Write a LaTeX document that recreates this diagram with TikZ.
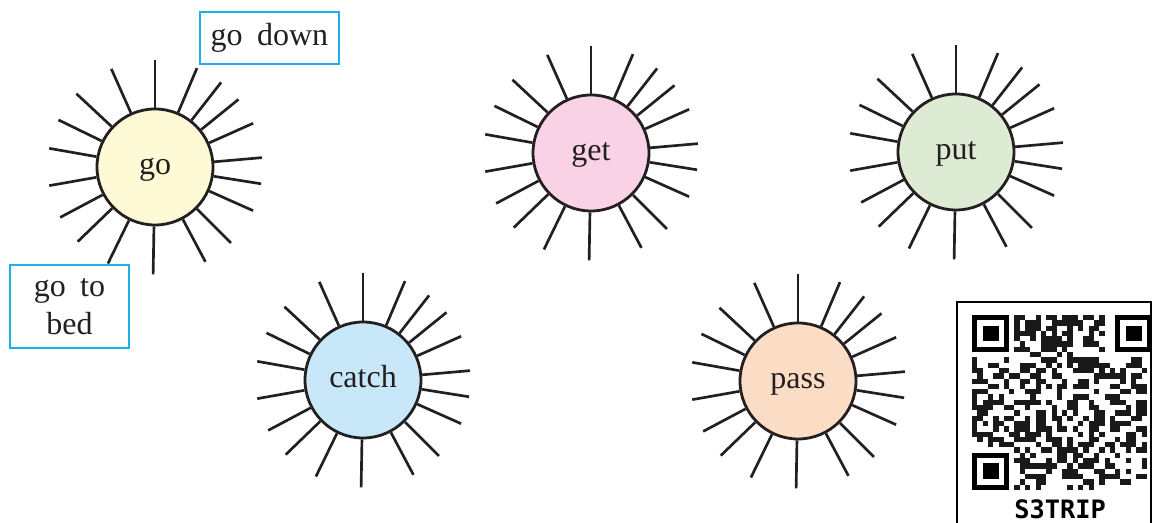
\documentclass[tikz,border=0pt]{standalone}
\usepackage{fontspec}
\setmainfont{Liberation Serif}
\newfontfamily\qrfont{DejaVu Sans Mono}
\definecolor{ink}{HTML}{231F20}
\definecolor{goY}{HTML}{FEFAD6}
\definecolor{getP}{HTML}{F9D3E5}
\definecolor{putG}{HTML}{DDEBD5}
\definecolor{catchB}{HTML}{C8E8F9}
\definecolor{passO}{HTML}{FBDCC5}
\definecolor{boxblue}{HTML}{1EAEE9}
\begin{document}
\begin{tikzpicture}[x=0.75pt,y=0.75pt,
  sun/.style={circle,draw=ink,line width=2.1pt,minimum size=87pt,inner sep=0pt,
    font=\fontsize{24}{28}\selectfont,text=ink,text height=12pt,text depth=0pt},
  ray/.style={draw=ink,line width=2pt},
  wbox/.style={draw=boxblue,line width=2.2pt,inner sep=0pt,align=center,
    font=\fontsize{24}{28.5}\selectfont,text=ink},
  qrmod/.style={fill=black!90}]
\useasboundingbox (0,0) rectangle (1153,523);
% suns
\node[sun,fill=goY] (go) at (155,356) {go};
\node[sun,fill=getP] (get) at (591,370) {get};
\node[sun,fill=putG] (put) at (956,371) {put};
\node[sun,fill=catchB] (catch) at (363,143) {catch};
\node[sun,fill=passO] (pass) at (798,142) {pass};
\foreach \s in {go,get,put,catch,pass}{
  \foreach \a in {90,67,52,39,24,5,-9,-24,-45,-62,-91,-116,-136,-152,-170,170,154,137,114}{
    \draw[ray] (\s.\a) -- ++(\a:48);
  }
}
% word boxes
\node[wbox,minimum width=104.25pt,minimum height=39pt] (down) at (269.5,485) {go\hspace{0.45em}down};
\node[wbox,minimum width=89.25pt,minimum height=62.25pt] (bed) at (69.5,216.5) {go\hspace{0.45em}to\\bed};
% QR code
\coordinate (qrA) at (957,-3);
\coordinate (qrB) at (1151,221);
\draw[line width=1.6pt,black] (qrA) rectangle (qrB);
\pgfmathsetseed{4711}
\foreach \i in {0,...,32}{
  \foreach \j in {0,...,32}{
    \pgfmathrandominteger{\r}{0}{99}
    \pgfmathtruncatemacro{\sk}{(((\i<8)&&(\j<8))||((\i>24)&&(\j<8))||((\i<8)&&(\j>24)))?1:0}
    \ifnum\sk=0 \ifnum\r<48 \fill[qrmod] (972+\i*5.3,208-\j*5.3) rectangle ++(5.3,-5.3);\fi\fi
  }
}
\foreach \fx/\fy in {972/208,1115/208,972/70.2}{
  \fill[black] (\fx,\fy) rectangle ++(37.1,-37.1);
  \fill[white] (\fx+5.3,\fy-5.3) rectangle ++(26.5,-26.5);
  \fill[black] (\fx+10.6,\fy-10.6) rectangle ++(15.9,-15.9);
}
\node[font=\qrfont\bfseries\fontsize{19}{19}\selectfont,inner sep=0pt,anchor=base] (qrtext) at (1060,4) {S3TRIP};
\end{tikzpicture}
\end{document}
